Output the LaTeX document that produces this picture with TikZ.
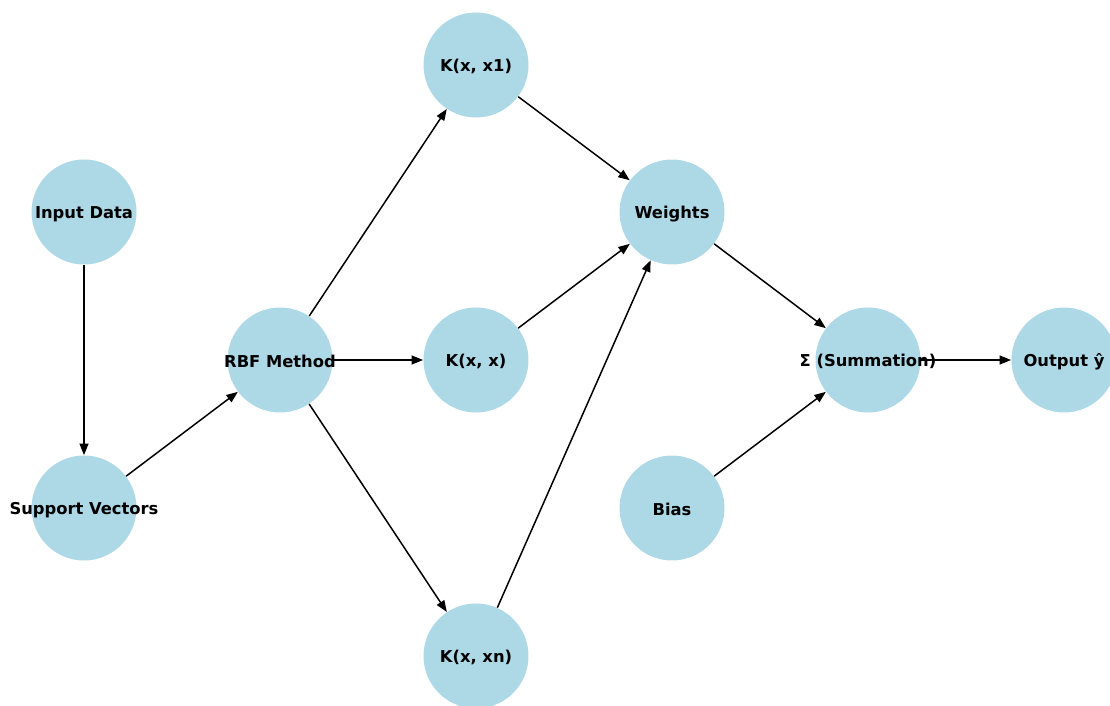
\documentclass[tikz,border=0pt]{standalone}
\usepackage{fontspec}
\setmainfont{DejaVu Sans}
\usetikzlibrary{arrows.meta}
\definecolor{nodeblue}{HTML}{ADD8E6}

\begin{document}
\begin{tikzpicture}
	[x=0.02cm, y=-0.02cm,
	 unit/.style={circle, fill=nodeblue, minimum size=2.1cm, inner sep=0pt},
	 tag/.style={font=\bfseries\fontsize{9.3}{11}\selectfont, inner sep=0pt, yshift=-1pt},
	 link/.style={-{Triangle[length=6.5pt,width=5pt]}, line width=0.85pt}]
	
	\useasboundingbox (0,0) rectangle (1110,706);
	
	\node[unit] (in) at (84,212) {};
	\node[unit] (sv) at (84,508) {};
	\node[unit] (rbf) at (280,360) {};
	\node[unit] (k1) at (476,65) {};
	\node[unit] (kx) at (476,360) {};
	\node[unit] (kn) at (476,656) {};
	\node[unit] (w) at (672,212) {};
	\node[unit] (b) at (672,508) {};
	\node[unit] (sum) at (868,360) {};
	\node[unit] (out) at (1064,360) {};
	
	\draw[link] (in) -- (sv);
	\draw[link] (sv) -- (rbf);
	\draw[link] (rbf) -- (k1);
	\draw[link] (rbf) -- (kx);
	\draw[link] (rbf) -- (kn);
	\draw[link] (k1) -- (w);
	\draw[link] (kx) -- (w);
	\draw[link] (kn) -- (w);
	\draw[link] (w) -- (sum);
	\draw[link] (b) -- (sum);
	\draw[link] (sum) -- (out);
	
	\node[tag] (in-t) at (in) {Input Data};
	\node[tag] (sv-t) at (sv) {Support Vectors};
	\node[tag] (rbf-t) at (rbf) {RBF Method};
	\node[tag] (k1-t) at (k1) {K(x, x1)};
	\node[tag] (kx-t) at (kx) {K(x, x)};
	\node[tag] (kn-t) at (kn) {K(x, xn)};
	\node[tag] (w-t) at (w) {Weights};
	\node[tag] (b-t) at (b) {Bias};
	\node[tag] (sum-t) at (sum) {Σ (Summation)};
	\node[tag] (out-t) at (out) {Output ŷ};
\end{tikzpicture}
\end{document}
